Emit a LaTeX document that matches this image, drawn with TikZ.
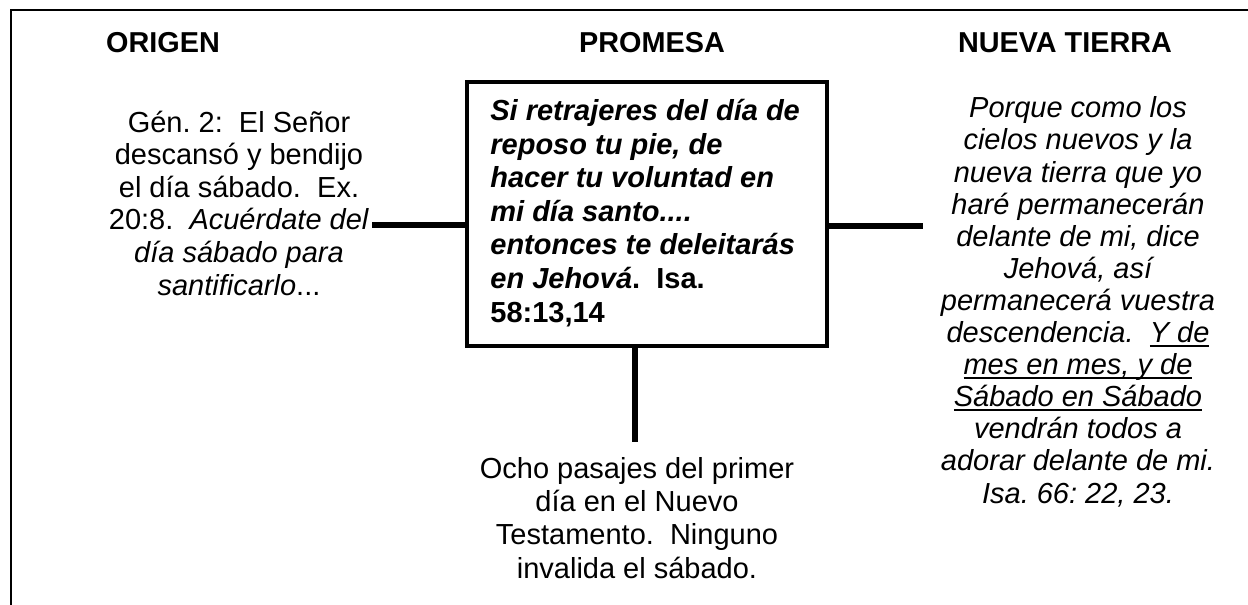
\documentclass[tikz,border=0pt]{standalone}
\usepackage{fontspec}
\setmainfont{Liberation Sans}
\frenchspacing
\newcommand{\myul}[1]{\setbox0\hbox{#1}\rlap{\rule[-2.2pt]{\wd0}{0.9pt}}\box0}
\tikzset{
  frame/.style={line width=1.1pt},
  promobox/.style={draw, line width=2.3pt, minimum width=180pt, minimum height=132pt, inner sep=0pt},
  conn/.style={line width=2.9pt},
  heading/.style={font=\fontsize{14.4}{16}\selectfont\bfseries, anchor=base, inner sep=0pt},
  bodytxt/.style={font=\fontsize{14.5}{16.2}\selectfont, align=center, anchor=base, inner sep=0pt},
}
\begin{document}
\frenchspacing
\begin{tikzpicture}[x=0.5pt,y=-0.5pt]
\useasboundingbox (0,0) rectangle (1248,605);
% frame
\draw[frame] (11,605) -- (11,10.3) -- (1248,10.3);
% headings
\node[heading] (h1) at (163,53) {ORIGEN};
\node[heading] (h2) at (652,53) {PROMESA};
\node[heading] (h3) at (1065,53) {NUEVA TIERRA};
% central box
\node[promobox] (box) at (647,214) {};
\node[font=\fontsize{14.5}{16.8}\selectfont\bfseries\frenchspacing, align=left, anchor=base west, inner sep=0pt] (boxtxt) at (490,322)
 {\itshape Si retrajeres del día de\\
  \itshape reposo tu pie, de\\
  \itshape hacer tu voluntad en\\
  \itshape mi día santo....\\
  \itshape entonces te deleitarás\\
  {\itshape en Jehová}.\ \ Isa.\\
  58:13,14};
% left text
\node[bodytxt, font=\fontsize{14.5}{16.3}\selectfont\frenchspacing] (left) at (239,295)
 {Gén. 2:\ \ El Señor\\
  descansó y bendijo\\
  el día sábado.\ \ Ex.\\
  20:8.\ \ \textit{Acuérdate del}\\
  \textit{día sábado para}\\
  \textit{santificarlo}...};
% right text
\node[bodytxt, font=\fontsize{14.5}{16.05}\selectfont\itshape\frenchspacing] (right) at (1078,503)
 {Porque como los\\
  cielos nuevos y la\\
  nueva tierra que yo\\
  haré permanecerán\\
  delante de mi, dice\\
  Jehová, así\\
  permanecerá vuestra\\
  descendencia.\ \ \myul{Y de}\\
  \myul{mes en mes, y de}\\
  \myul{Sábado en Sábado}\\
  vendrán todos a\\
  adorar delante de mi.\\
  Isa. 66: 22, 23.};
% bottom text
\node[bodytxt, font=\fontsize{14.5}{16.65}\selectfont\frenchspacing] (bottom) at (637,578)
 {Ocho pasajes del primer\\
  día en el Nuevo\\
  Testamento.\ \ Ninguno\\
  invalida el sábado.};
% connectors
\coordinate (lc) at (372,225);
\coordinate (rc) at (923,226);
\coordinate (bc) at (635,442);
\draw[conn] (lc) -- (lc -| box.west);
\draw[conn] (rc -| box.east) -- (rc);
\draw[conn] (bc |- box.south) -- (bc);
\end{tikzpicture}
\end{document}
